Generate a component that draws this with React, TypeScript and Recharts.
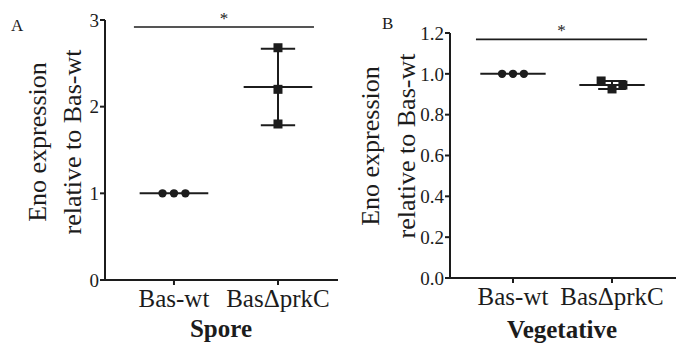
import React from 'react';
import { ScatterChart, Scatter, XAxis, YAxis, ReferenceLine, ReferenceDot } from 'recharts';

const categories = ['Bas-wt', 'BasΔprkC'];

// Panel A: Spore
const sporeWt = [1.0, 1.0, 1.0];
const sporePrkC = [2.68, 2.2, 1.8];
const sporeWtJitter = [-0.11, 0, 0.11];
const sporePrkCJitter = [0, 0, 0];
const sporeTicks = [0, 1, 2, 3];
const sporeSig = { from: -0.385, to: 1.346, y: 2.92 };

// Panel B: Vegetative
const vegWt = [1.0, 1.0, 1.0];
const vegPrkC = [0.965, 0.926, 0.945];
const vegWtJitter = [-0.11, 0, 0.11];
const vegPrkCJitter = [-0.11, 0, 0.11];
const vegTicks = [0, 0.2, 0.4, 0.6, 0.8, 1.0, 1.2];
const vegSig = { from: -0.374, to: 1.354, y: 1.169 };

const INK = '#1c1c1c';
const FONT = '"Liberation Serif", "Times New Roman", serif';

const mean = (a: number[]) => a.reduce((s, v) => s + v, 0) / a.length;
const sd = (a: number[]) => {
  const m = mean(a);
  return Math.sqrt(a.reduce((s, v) => s + (v - m) * (v - m), 0) / (a.length - 1));
};

const toPts = (vals: number[], jit: number[], idx: number) =>
  vals.map((v, i) => ({ x: idx + jit[i], y: v }));

const Circle = (p: any) => <circle cx={p.cx} cy={p.cy} r={4.2} fill={INK} />;
const Square = (p: any) => <rect x={p.cx - 4.5} y={p.cy - 4.5} width={9} height={9} fill={INK} />;

type PanelProps = {
  left: number;
  width: number;
  top: number;
  yAxisW: number;
  xAxisH: number;
  right: number;
  xDomain: [number, number];
  yDomain: [number, number];
  yTicks: number[];
  yFmt: (v: number) => string;
  wt: number[];
  prkc: number[];
  wtJit: number[];
  prkcJit: number[];
  sig: { from: number; to: number; y: number };
  capHalf: number;
};

const Group = (vals: number[], idx: number, capHalf: number, key: string) => {
  const m = mean(vals);
  const s = sd(vals);
  const els: React.ReactNode[] = [];
  els.push(
    <ReferenceLine key={key + 'm'} segment={[{ x: idx - 0.33, y: m }, { x: idx + 0.33, y: m }]} stroke={INK} strokeWidth={2} ifOverflow="visible" />
  );
  if (s > 0.001) {
    els.push(
      <ReferenceLine key={key + 'v'} segment={[{ x: idx, y: m - s }, { x: idx, y: m + s }]} stroke={INK} strokeWidth={2} ifOverflow="visible" />,
      <ReferenceLine key={key + 'u'} segment={[{ x: idx - capHalf, y: m + s }, { x: idx + capHalf, y: m + s }]} stroke={INK} strokeWidth={2} ifOverflow="visible" />,
      <ReferenceLine key={key + 'l'} segment={[{ x: idx - capHalf, y: m - s }, { x: idx + capHalf, y: m - s }]} stroke={INK} strokeWidth={2} ifOverflow="visible" />
    );
  }
  return els;
};

const Panel = (p: PanelProps) => (
  <div style={{ position: 'absolute', left: p.left, top: 0 }}>
    <ScatterChart width={p.width} height={345} margin={{ top: p.top, right: p.right, bottom: 0, left: 0 }}>
      <XAxis
        type="number"
        dataKey="x"
        domain={p.xDomain}
        ticks={[0, 1]}
        tickFormatter={(v: number) => categories[Math.round(v)]}
        height={p.xAxisH}
        tickSize={5}
        tickMargin={4}
        stroke={INK}
        strokeWidth={2}
        tick={{ fill: INK, fontSize: 25, fontFamily: FONT }}
        allowDataOverflow
      />
      <YAxis
        type="number"
        dataKey="y"
        domain={p.yDomain}
        ticks={p.yTicks}
        tickFormatter={p.yFmt}
        width={p.yAxisW}
        tickSize={5}
        tickMargin={1}
        stroke={INK}
        strokeWidth={2}
        tick={{ fill: INK, fontSize: 19, fontFamily: FONT }}
        allowDataOverflow
      />
      {Group(p.wt, 0, p.capHalf, 'wt')}
      {Group(p.prkc, 1, p.capHalf, 'pk')}
      <ReferenceLine segment={[{ x: p.sig.from, y: p.sig.y }, { x: p.sig.to, y: p.sig.y }]} stroke={INK} strokeWidth={1.6} ifOverflow="visible" />
      <ReferenceDot
        x={(p.sig.from + p.sig.to) / 2}
        y={p.sig.y}
        ifOverflow="visible"
        shape={(s: any) => (
          <text x={s.cx} y={s.cy - 3} textAnchor="middle" fontSize={17} fontFamily={FONT} fill={INK}>*</text>
        )}
      />
      <Scatter data={toPts(p.wt, p.wtJit, 0)} shape={Circle} isAnimationActive={false} />
      <Scatter data={toPts(p.prkc, p.prkcJit, 1)} shape={Square} isAnimationActive={false} />
    </ScatterChart>
  </div>
);

const YTitle = ({ cy, x1, x2 }: { cy: number; x1: number; x2: number }) => (
  <text transform={`translate(0, ${cy}) rotate(-90)`} textAnchor="middle" fontFamily={FONT} fontSize={26} fill={INK}>
    <tspan x={0} y={x1}>Eno expression</tspan>
    <tspan x={0} y={x2}>relative to Bas-wt</tspan>
  </text>
);

export default function App() {
  return (
    <div style={{ position: 'absolute', left: 0, top: 0, width: 676, height: 345, background: '#fff', overflow: 'hidden' }}>
      <Panel
        left={0}
        width={340}
        top={20}
        right={2}
        yAxisW={105}
        xAxisH={65}
        xDomain={[-0.663, 1.577]}
        yDomain={[0, 3]}
        yTicks={sporeTicks}
        yFmt={(v) => String(v)}
        wt={sporeWt}
        prkc={sporePrkC}
        wtJit={sporeWtJitter}
        prkcJit={sporePrkCJitter}
        sig={sporeSig}
        capHalf={0.165}
      />
      <Panel
        left={340}
        width={336}
        top={33}
        right={0}
        yAxisW={110}
        xAxisH={67}
        xDomain={[-0.636, 1.646]}
        yDomain={[0, 1.2]}
        yTicks={vegTicks}
        yFmt={(v) => v.toFixed(1)}
        wt={vegWt}
        prkc={vegPrkC}
        wtJit={vegWtJitter}
        prkcJit={vegPrkCJitter}
        sig={vegSig}
        capHalf={0.14}
      />
      <svg width={676} height={345} style={{ position: 'absolute', left: 0, top: 0, pointerEvents: 'none' }}>
        <text x={11} y={31} fontFamily={FONT} fontSize={17} fill={INK}>A</text>
        <text x={382} y={29} fontFamily={FONT} fontSize={17} fill={INK}>B</text>
        <YTitle cy={142} x1={46} x2={81} />
        <YTitle cy={146} x1={379} x2={415} />
        <text x={221} y={337} textAnchor="middle" fontFamily={FONT} fontSize={25} fontWeight="bold" fill={INK}>Spore</text>
        <text x={562} y={338} textAnchor="middle" fontFamily={FONT} fontSize={25} fontWeight="bold" fill={INK}>Vegetative</text>
      </svg>
    </div>
  );
}
